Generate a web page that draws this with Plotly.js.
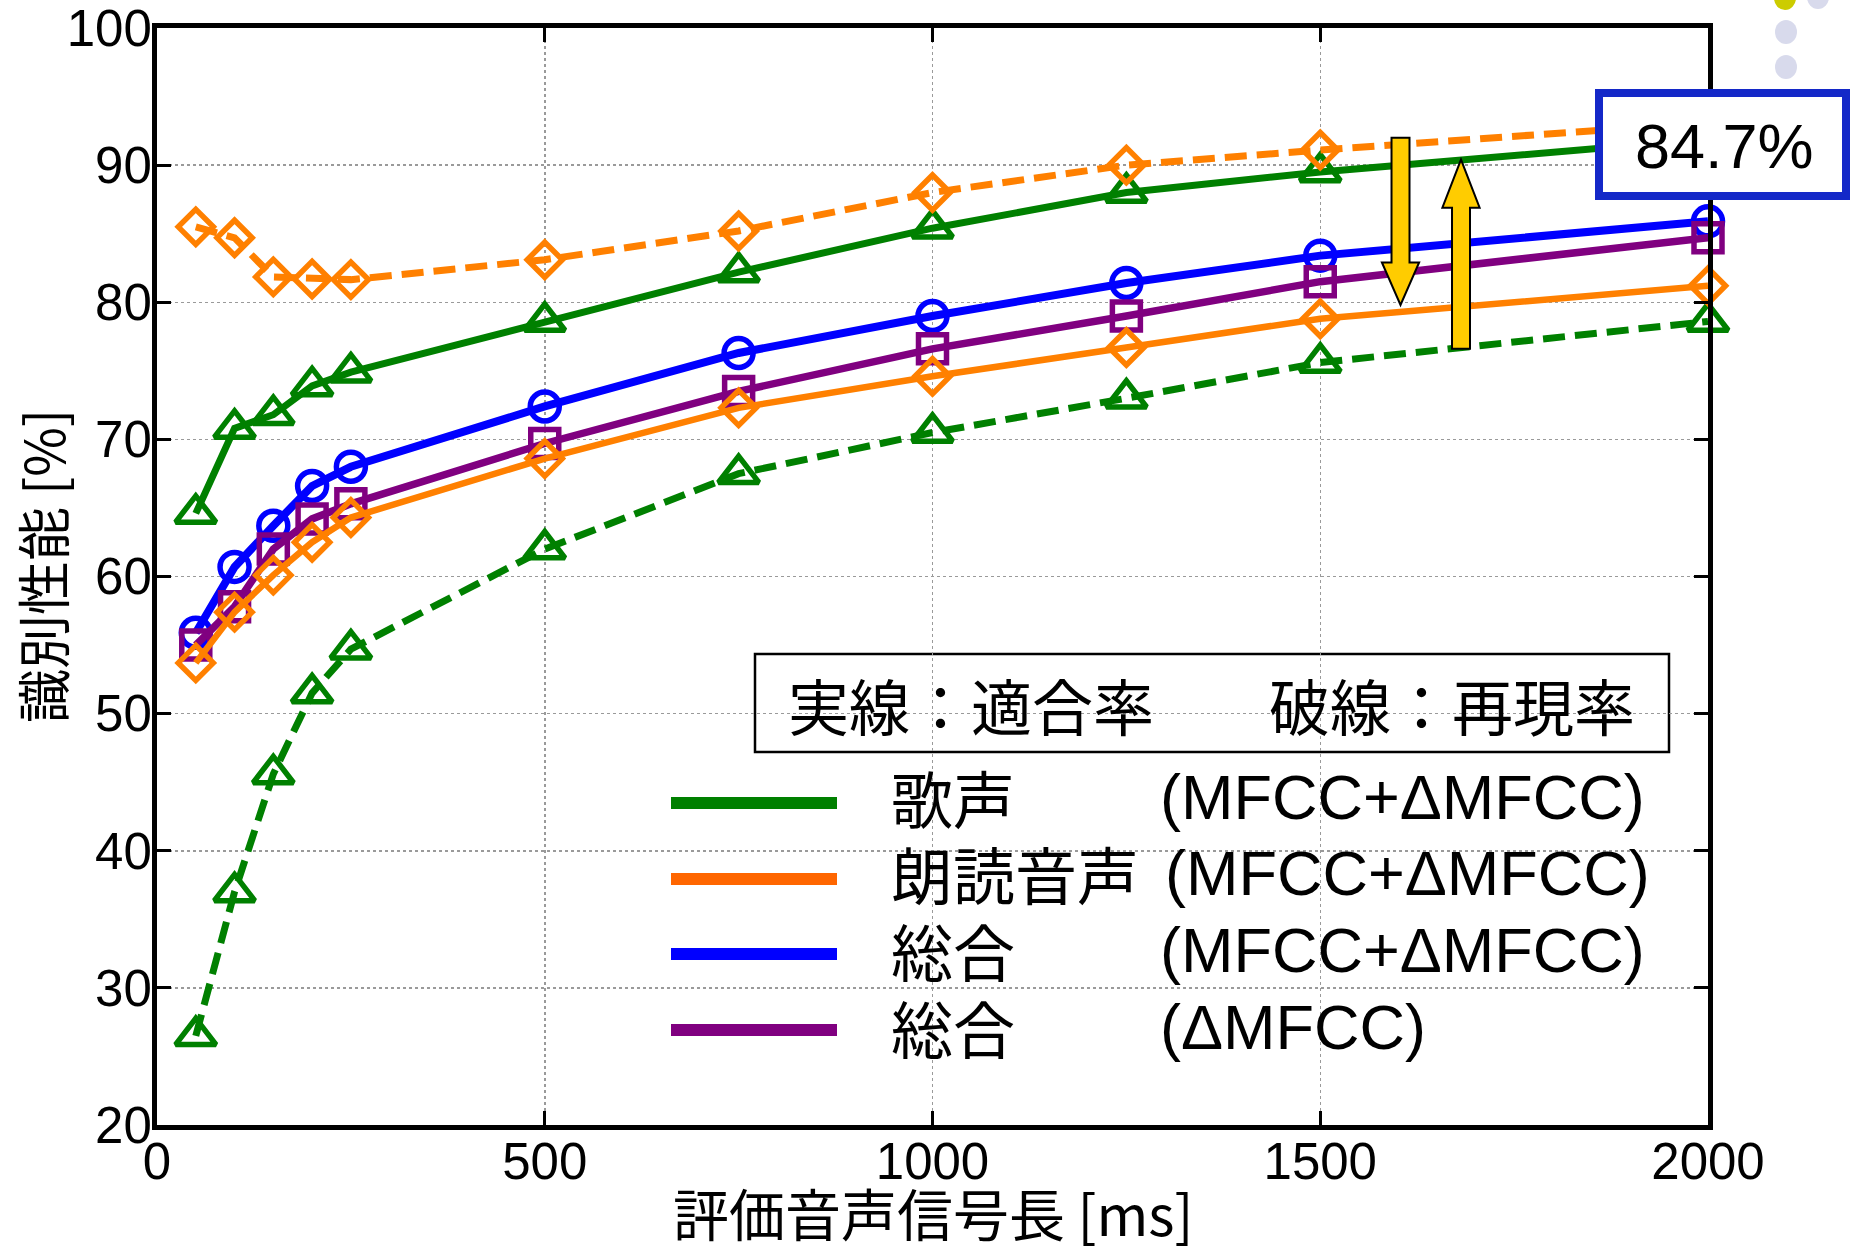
<!DOCTYPE html>
<html>
<head>
<meta charset="utf-8">
<script src="https://cdn.plot.ly/plotly-3.0.1.min.js"></script>
<style>html,body{margin:0;padding:0;background:#fff;}#chart{width:1850px;height:1251px;}</style>
</head>
<body>
<div id="chart"></div>
<script>
// ---- data ----
const lengthsMs = [50, 100, 150, 200, 250, 500, 750, 1000, 1250, 1500, 2000];
const songPrecision = [64.6, 70.8, 71.8, 73.9, 74.9, 78.6, 82.2, 85.4, 88.0, 89.5, 91.9];
const songRecall = [26.5, 37.0, 45.6, 51.5, 54.7, 62.0, 67.5, 70.5, 73.0, 75.6, 78.6];
const readPrecision = [53.7, 57.4, 60.1, 62.5, 64.3, 68.6, 72.3, 74.6, 76.7, 78.8, 81.2];
const readRecall = [85.5, 84.7, 81.85, 81.7, 81.65, 83.1, 85.2, 88.0, 90.0, 91.1, 93.1];
const totalMfccDelta = [55.9, 60.7, 63.7, 66.6, 68.0, 72.4, 76.3, 79.0, 81.4, 83.4, 85.9];
const totalDeltaOnly = [55.0, 57.8, 62.0, 64.2, 65.3, 69.7, 73.5, 76.6, 79.0, 81.5, 84.7];
const xTicks = [0, 500, 1000, 1500, 2000];
const yTicks = [20, 30, 40, 50, 60, 70, 80, 90, 100];
const legendNames = ['歌声', '朗読音声', '総合', '総合'];
const legendFeatures = ['(MFCC+ΔMFCC)', '(MFCC+ΔMFCC)', '(MFCC+ΔMFCC)', '(ΔMFCC)'];
const highlightText = '84.7%';

// ---- layout helpers (pixel -> paper) ----
const W = 1850, H = 1251, L = 157, R = 1708, T = 28, B = 1125;
const px = x => (x - L) / (R - L);
const py = y => (B - y) / (B - T);

const GREEN = '#008000', ORANGE = '#FF8000', BLUE = '#0000FF', PURPLE = '#800080';
const LATIN = 'Liberation Sans, Arial, Noto Sans CJK JP, sans-serif';
const CJK = 'Noto Sans CJK JP, Liberation Sans, sans-serif';
const DASH = '22px,10px';

function tr(y, color, width, symbol, size, dash) {
  return {
    x: lengthsMs, y: y, type: 'scatter', mode: 'lines+markers', cliponaxis: false,
    line: {color: color, width: width, dash: dash || 'solid'},
    marker: {symbol: symbol, size: size, color: color, line: {color: color, width: 5.5}},
    hoverinfo: 'x+y'
  };
}

const data = [
  tr(songPrecision, GREEN, 7, 'triangle-up-open', 35),
  tr(songRecall, GREEN, 7, 'triangle-up-open', 35, DASH),
  tr(readRecall, ORANGE, 7, 'diamond-open', 27, DASH),
  tr(totalMfccDelta, BLUE, 8, 'circle-open', 29),
  tr(totalDeltaOnly, PURPLE, 7.5, 'square-open', 28),
  tr(readPrecision, ORANGE, 6.5, 'diamond-open', 27)
];

const shapes = [];
const annotations = [];

// legend background (hides grid) and header box
shapes.push({type: 'rect', xref: 'paper', yref: 'paper', x0: px(626), x1: px(1669), y0: py(1085), y1: py(752),
  fillcolor: '#ffffff', line: {width: 0}, layer: 'between'});
shapes.push({type: 'rect', xref: 'paper', yref: 'paper', x0: px(755), x1: px(1669), y0: py(752), y1: py(654),
  fillcolor: '#ffffff', line: {color: '#000', width: 2.5}, layer: 'between'});
annotations.push({xref: 'paper', yref: 'paper', x: px(786), y: py(704), xanchor: 'left', yanchor: 'middle',
  text: '実線：適合率', showarrow: false, font: {family: CJK, size: 61, color: '#000'}});
annotations.push({xref: 'paper', yref: 'paper', x: px(1267), y: py(704), xanchor: 'left', yanchor: 'middle',
  text: '破線：再現率', showarrow: false, font: {family: CJK, size: 61, color: '#000'}});

// legend rows
const rowLineColors = [GREEN, '#FF6600', BLUE, PURPLE];
const rowY = [803, 879, 954, 1030];
const rowTextY = [797, 873, 950, 1027];
const featureX = [1158, 1163, 1158, 1158];
for (let i = 0; i < 4; i++) {
  shapes.push({type: 'line', xref: 'paper', yref: 'paper', x0: px(671), x1: px(837), y0: py(rowY[i]), y1: py(rowY[i]),
    line: {color: rowLineColors[i], width: 12}, layer: 'above'});
  annotations.push({xref: 'paper', yref: 'paper', x: px(889), y: py(rowTextY[i]), xanchor: 'left', yanchor: 'middle',
    text: legendNames[i], showarrow: false, font: {family: CJK, size: 62, color: '#000'}});
  annotations.push({xref: 'paper', yref: 'paper', x: px(featureX[i]), y: py(rowTextY[i]), xanchor: 'left', yanchor: 'middle',
    text: legendFeatures[i], showarrow: false, font: {family: LATIN, size: 63, color: '#000'}});
}

// yellow arrows (data coordinates)
function arrow(xc, start, base, tip) {
  const hw = 11.6, hh = 24;
  return `M ${xc-hw},${start} L ${xc+hw},${start} L ${xc+hw},${base} L ${xc+hh},${base} L ${xc},${tip} L ${xc-hh},${base} L ${xc-hw},${base} Z`;
}
shapes.push({type: 'path', xref: 'x', yref: 'y', path: arrow(1603.5, 92.0, 82.9, 79.8),
  fillcolor: '#FFCC00', line: {color: '#000', width: 2}, layer: 'above'});
shapes.push({type: 'path', xref: 'x', yref: 'y', path: arrow(1681.5, 76.6, 86.9, 90.4),
  fillcolor: '#FFCC00', line: {color: '#000', width: 2}, layer: 'above'});

// 84.7% box
shapes.push({type: 'rect', xref: 'paper', yref: 'paper', x0: px(1599), x1: px(1846), y0: py(196), y1: py(93),
  fillcolor: '#ffffff', line: {color: '#1428C8', width: 8}, layer: 'above'});
annotations.push({xref: 'paper', yref: 'paper', x: px(1724), y: py(146), xanchor: 'center', yanchor: 'middle',
  text: highlightText, showarrow: false, font: {family: LATIN, size: 63, color: '#000'}});

// decorative dots top-right
const dots = [[1785, -2, '#CCCC00'], [1818, -3, '#D8DAEC'], [1786, 32, '#D8DAEC'], [1786, 67, '#D8DAEC']];
dots.forEach(d => shapes.push({type: 'circle', xref: 'paper', yref: 'paper',
  x0: px(d[0]-11), x1: px(d[0]+11), y0: py(d[1]+12), y1: py(d[1]-12), fillcolor: d[2], line: {width: 0}, layer: 'above'}));

// axis titles
annotations.push({xref: 'paper', yref: 'paper', x: 0.5, y: py(1211), xanchor: 'center', yanchor: 'middle',
  text: '評価音声信号長 [ms]', showarrow: false, font: {family: CJK, size: 56, color: '#000'}});
annotations.push({xref: 'paper', yref: 'paper', x: px(41), y: py(566), xanchor: 'center', yanchor: 'middle', textangle: -90,
  text: '識別性能 [%]', showarrow: false, font: {family: CJK, size: 54, color: '#000'}});

const axisCommon = {
  showline: true, linecolor: '#000', linewidth: 5, mirror: 'ticks',
  ticks: 'inside', ticklen: 14, tickwidth: 3, tickcolor: '#000',
  showgrid: true, gridcolor: '#9a9a9a', gridwidth: 1.5, griddash: 'dot',
  zeroline: false, tickfont: {family: LATIN, size: 51, color: '#000'}, automargin: false,
  ticklabeloverflow: 'allow'
};

const layout = {
  width: W, height: H,
  margin: {l: L, r: W - R, t: T, b: H - B, pad: 0},
  paper_bgcolor: '#fff', plot_bgcolor: '#fff', showlegend: false,
  xaxis: Object.assign({}, axisCommon, {range: [0, 2000], tickvals: xTicks, ticktext: xTicks.map(String), ticklabelstandoff: -12}),
  yaxis: Object.assign({}, axisCommon, {range: [20, 100], tickvals: yTicks, ticktext: yTicks.map(String), ticklabelstandoff: -10}),
  shapes: shapes, annotations: annotations
};

Plotly.newPlot('chart', data, layout, {displayModeBar: false, staticPlot: true});
</script>
</body>
</html>
